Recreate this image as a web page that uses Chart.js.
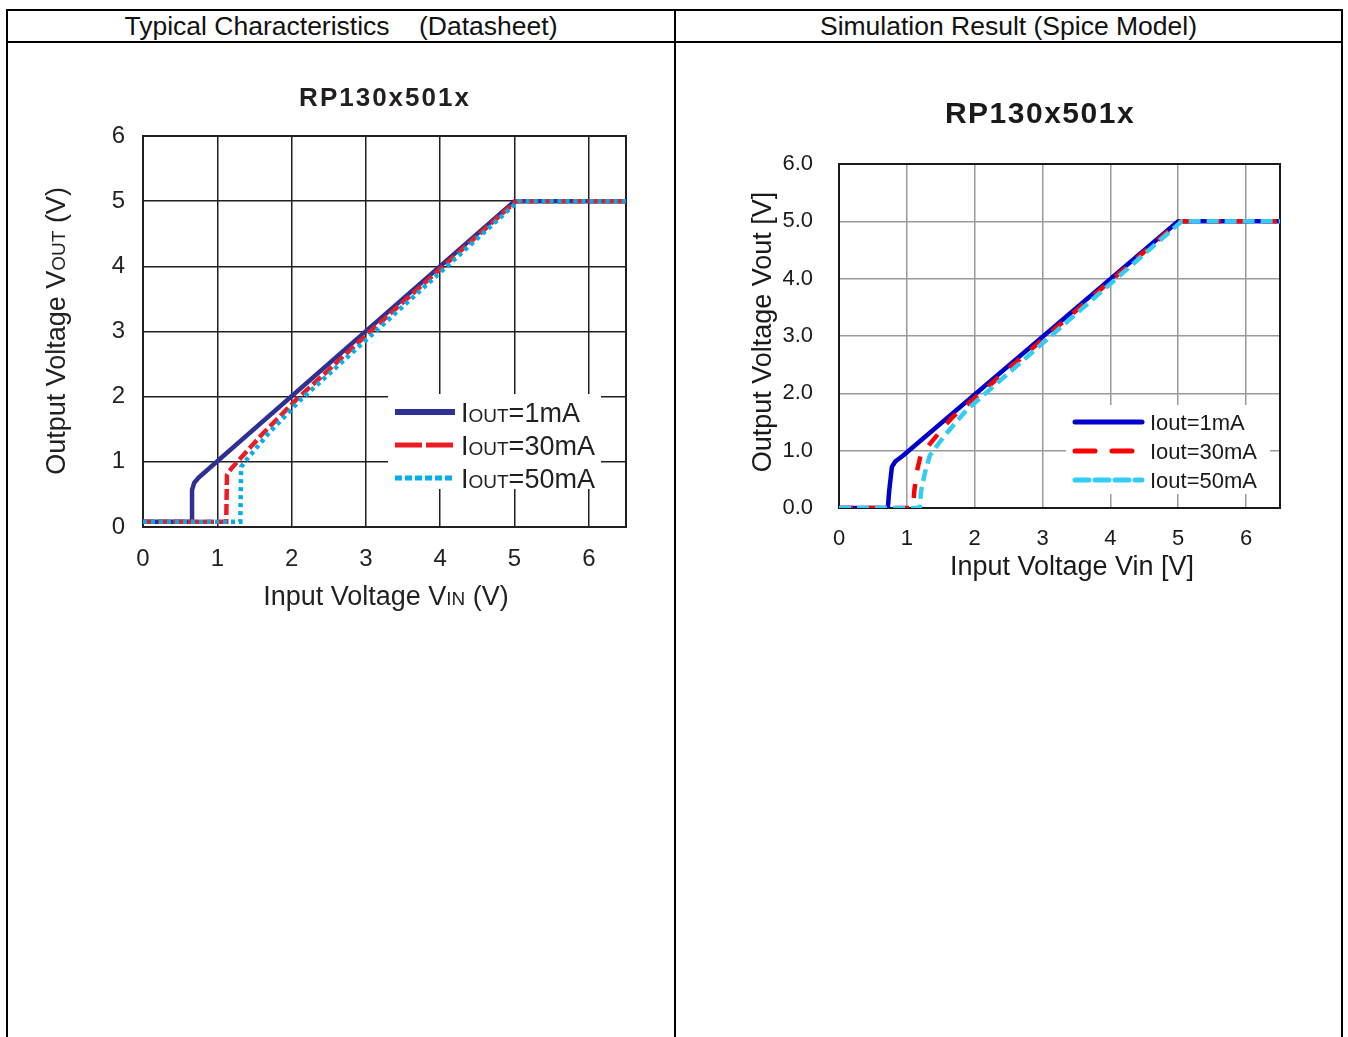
<!DOCTYPE html>
<html>
<head>
<meta charset="utf-8">
<script src="https://cdn.jsdelivr.net/npm/chart.js@4.4.1/dist/chart.umd.min.js"></script>
<style>
  body { margin: 0; background: #fff; overflow: hidden; width: 1348px; height: 1037px; position: relative; }
  .ln { position: absolute; background: #000; }
  .hd { position: absolute; top: 11px; height: 30px; line-height: 30px; text-align: center;
        font: 26.5px "Liberation Sans", Arial, sans-serif; color: #111; white-space: pre; }
  canvas { position: absolute; }
</style>
</head>
<body>
<div class="ln" style="left:6px;top:9px;width:1337px;height:2px"></div>
<div class="ln" style="left:6px;top:41px;width:1337px;height:2px"></div>
<div class="ln" style="left:6px;top:9px;width:2px;height:1100px"></div>
<div class="ln" style="left:674px;top:9px;width:2px;height:1100px"></div>
<div class="ln" style="left:1341px;top:9px;width:2px;height:1100px"></div>
<div class="hd" style="left:8px;width:666px">Typical Characteristics    (Datasheet)</div>
<div class="hd" style="left:676px;width:665px">Simulation Result (Spice Model)</div>

<canvas id="dsChart" width="666" height="620" style="left:8px;top:43px;width:666px;height:620px"></canvas>
<canvas id="simChart" width="665" height="620" style="left:676px;top:43px;width:665px;height:620px"></canvas>

<script>
// ---- datasheet curves (left) ----
const dsVin1   = [0, 0.66, 0.66, 0.69, 0.75, 5.0, 6.5];
const dsVout1  = [0.08, 0.08, 0.57, 0.68, 0.76, 5.0, 5.0];
const dsVin30  = [0, 1.12, 1.13, 1.19, 1.27, 1.6, 2.06, 3.03, 5.02, 6.5];
const dsVout30 = [0.08, 0.08, 0.8, 0.9, 1.0, 1.42, 1.95, 2.97, 5.0, 5.0];
const dsVin50  = [0, 1.31, 1.32, 1.37, 1.7, 2.12, 3.08, 5.05, 6.5];
const dsVout50 = [0.08, 0.08, 0.92, 1.0, 1.45, 1.95, 2.95, 5.0, 5.0];

// ---- simulation curves (right) ----
const simVin1   = [0, 0.72, 0.74, 0.78, 0.83, 0.95, 5.0, 6.5];
const simVout1  = [0, 0, 0.3, 0.72, 0.81, 0.92, 5.0, 5.0];
const simVin30  = [0, 1.09, 1.11, 1.15, 1.2, 1.34, 1.66, 5.02, 6.5];
const simVout30 = [0, 0, 0.3, 0.65, 0.9, 1.12, 1.57, 5.0, 5.0];
const simVin50  = [0, 1.19, 1.21, 1.27, 1.34, 1.54, 1.88, 5.05, 6.5];
const simVout50 = [0, 0, 0.3, 0.63, 0.92, 1.24, 1.71, 5.0, 5.0];

const dsLabels  = ['1mA', '30mA', '50mA'];
const simLabels = ['Iout=1mA', 'Iout=30mA', 'Iout=50mA'];

const FONT = '"Liberation Sans", Arial, sans-serif';

function pts(xs, ys) { return xs.map((x, i) => ({x: x, y: ys[i]})); }

// draw a row of text pieces with different sizes (for the small-caps subscripts)
function runs(ctx, parts, x, y, angle, align, color) {
  ctx.save();
  ctx.translate(x, y);
  ctx.rotate(angle);
  ctx.fillStyle = color;
  ctx.textBaseline = 'alphabetic';
  let total = 0;
  const ws = parts.map(p => {
    ctx.font = (p[2] || '') + ' ' + p[1] + 'px ' + FONT;
    const w = ctx.measureText(p[0]).width;
    total += w;
    return w;
  });
  let cx = align === 'center' ? -total / 2 : 0;
  const base = parts[0][1] * 0.36;
  parts.forEach((p, i) => {
    ctx.font = (p[2] || '') + ' ' + p[1] + 'px ' + FONT;
    ctx.fillText(p[0], cx, base);
    cx += ws[i];
  });
  ctx.restore();
}

function frame(color) {
  return {
    id: 'frame',
    beforeDatasetsDraw(chart) {
      const a = chart.chartArea, ctx = chart.ctx;
      ctx.save();
      ctx.strokeStyle = color;
      ctx.lineWidth = 2;
      ctx.strokeRect(a.left, a.top, a.right - a.left, a.bottom - a.top);
      ctx.restore();
    }
  };
}

function fixedArea(w, h, area) {
  return {
    layout: { padding: { left: 0, top: area.top, right: w - area.right, bottom: 0 } },
    yFit: s => { s.width = area.left; },
    xFit: s => { s.height = h - area.bottom; }
  };
}

// ================= left chart =================
const dsW = 666, dsH = 620;
const dsArea = { left: 135, top: 93, right: 618, bottom: 484 };
const dsFit = fixedArea(dsW, dsH, dsArea);
const dsCol = ['#2e3192', '#ed1c24', '#00aeef'];

const dsDecor = {
  id: 'dsDecor',
  afterDatasetsDraw(chart) {
    const ctx = chart.ctx;
    const ink = '#231f20';
    ctx.save();
    ctx.letterSpacing = '2px';
    runs(ctx, [['RP130x501x', 26, 'bold']], 377, 54, 0, 'center', ink);
    ctx.letterSpacing = '0px';
    runs(ctx, [['Input Voltage V', 27], ['IN', 19], [' (V)', 27]], 378, 552, 0, 'center', ink);
    runs(ctx, [['Output Voltage V', 27], ['OUT', 19], [' (V)', 27]], 47, 288, -Math.PI / 2, 'center', ink);
    // legend
    ctx.fillStyle = '#fff';
    ctx.fillRect(380, 351, 213, 95);
    const rows = [369, 402, 435];
    const dash = [[], [27, 4], [7, 3]];
    rows.forEach((ry, i) => {
      ctx.beginPath();
      ctx.setLineDash(dash[i]);
      ctx.lineCap = 'butt';
      ctx.strokeStyle = dsCol[i];
      ctx.lineWidth = i === 0 ? 6 : 5;
      ctx.moveTo(387, ry); ctx.lineTo(447, ry);
      ctx.stroke();
      ctx.setLineDash([]);
      runs(ctx, [['I', 27], ['OUT', 19], ['=' + dsLabels[i], 27]], 453, ry, 0, 'left', ink);
    });
    ctx.restore();
  }
};

new Chart(document.getElementById('dsChart'), {
  type: 'line',
  data: {
    datasets: [
      { data: pts(dsVin1, dsVout1), borderColor: dsCol[0], borderWidth: 4.5, order: 3, borderJoinStyle: 'round' },
      { data: pts(dsVin30, dsVout30), borderColor: dsCol[1], borderWidth: 4.5, order: 2, borderDash: [11, 4] },
      { data: pts(dsVin50, dsVout50), borderColor: dsCol[2], borderWidth: 4.5, order: 1, borderDash: [4, 4] }
    ]
  },
  options: {
    responsive: false,
    animation: false,
    devicePixelRatio: 1,
    layout: dsFit.layout,
    elements: { point: { radius: 0 }, line: { tension: 0 } },
    plugins: { legend: { display: false }, tooltip: { enabled: false } },
    scales: {
      x: {
        type: 'linear', min: 0, max: 6.5,
        afterFit: dsFit.xFit,
        border: { display: false },
        grid: { color: '#231f20', lineWidth: 1.5, drawTicks: false },
        ticks: { stepSize: 1, includeBounds: false, padding: 18, color: '#231f20', font: { family: FONT, size: 24 } }
      },
      y: {
        type: 'linear', min: 0, max: 6,
        afterFit: dsFit.yFit,
        border: { display: false },
        grid: { color: '#231f20', lineWidth: 1.5, drawTicks: false },
        ticks: { stepSize: 1, padding: 18, color: '#231f20', font: { family: FONT, size: 24 } }
      }
    }
  },
  plugins: [frame('#231f20'), dsDecor]
});

// ================= right chart =================
const simW = 665, simH = 620;
const simArea = { left: 163, top: 121, right: 604, bottom: 465 };
const simFit = fixedArea(simW, simH, simArea);
const simCol = ['#0000cc', '#ff0000', '#33ccf5'];

const simDecor = {
  id: 'simDecor',
  afterDatasetsDraw(chart) {
    const ctx = chart.ctx;
    const ink = '#1a1a1a';
    ctx.save();
    ctx.letterSpacing = '1.5px';
    runs(ctx, [['RP130x501x', 30, 'bold']], 364, 69, 0, 'center', ink);
    ctx.letterSpacing = '0px';
    runs(ctx, [['Input Voltage Vin [V]', 27]], 396, 522, 0, 'center', ink);
    runs(ctx, [['Output Voltage Vout [V]', 27]], 85, 289, -Math.PI / 2, 'center', ink);
    ctx.fillStyle = '#fff';
    ctx.fillRect(390, 362, 204, 89);
    const rows = [379, 408, 437];
    const dash = [[], [20, 17], [14, 6]];
    rows.forEach((ry, i) => {
      ctx.beginPath();
      ctx.setLineDash(dash[i]);
      ctx.lineCap = 'round';
      ctx.strokeStyle = simCol[i];
      ctx.lineWidth = 5;
      ctx.moveTo(399, ry); ctx.lineTo(466, ry);
      ctx.stroke();
      ctx.setLineDash([]);
      runs(ctx, [[simLabels[i], 22]], 474, ry, 0, 'left', ink);
    });
    ctx.restore();
  }
};

new Chart(document.getElementById('simChart'), {
  type: 'line',
  data: {
    datasets: [
      { data: pts(simVin1, simVout1), borderColor: simCol[0], borderWidth: 4.5, order: 3, borderJoinStyle: 'round' },
      { data: pts(simVin30, simVout30), borderColor: simCol[1], borderWidth: 4.5, order: 2, borderDash: [14, 14] },
      { data: pts(simVin50, simVout50), borderColor: simCol[2], borderWidth: 4.5, order: 1, borderDash: [12, 6] }
    ]
  },
  options: {
    responsive: false,
    animation: false,
    devicePixelRatio: 1,
    layout: simFit.layout,
    elements: { point: { radius: 0 }, line: { tension: 0 } },
    plugins: { legend: { display: false }, tooltip: { enabled: false } },
    scales: {
      x: {
        type: 'linear', min: 0, max: 6.5,
        afterFit: simFit.xFit,
        border: { display: false },
        grid: { color: '#9a9a9a', lineWidth: 1.5, drawTicks: false },
        ticks: { stepSize: 1, includeBounds: false, padding: 18, color: '#1a1a1a', font: { family: FONT, size: 22 } }
      },
      y: {
        type: 'linear', min: 0, max: 6,
        afterFit: simFit.yFit,
        border: { display: false },
        grid: { color: '#9a9a9a', lineWidth: 1.5, drawTicks: false },
        ticks: { stepSize: 1, padding: 26, color: '#1a1a1a', font: { family: FONT, size: 22 },
                 callback: v => v.toFixed(1) }
      }
    }
  },
  plugins: [frame('#1a1a1a'), simDecor]
});
</script>
</body>
</html>
